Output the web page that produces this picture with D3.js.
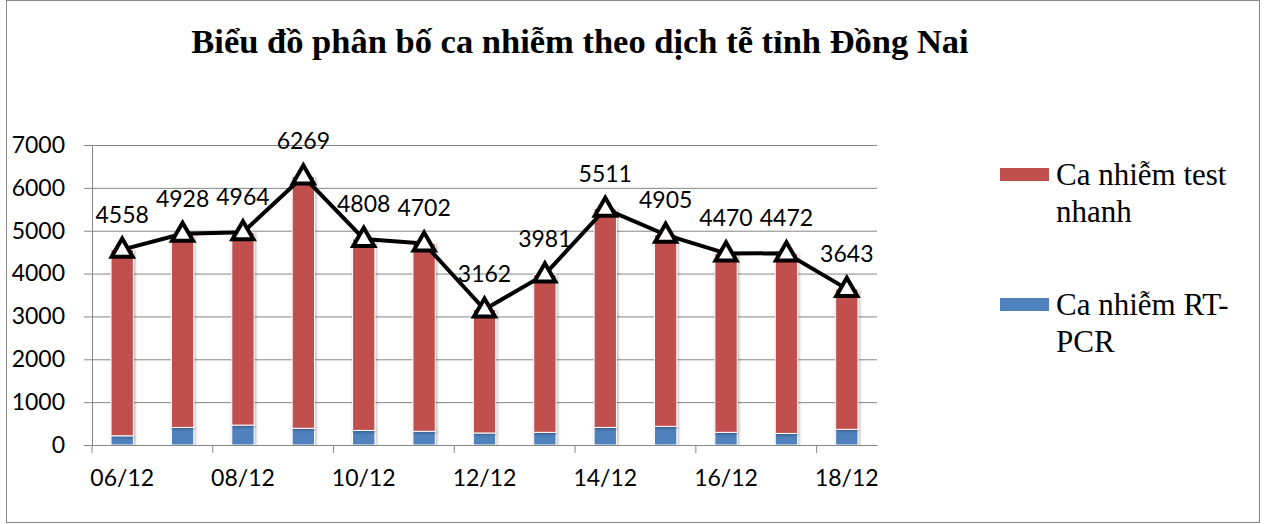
<!DOCTYPE html>
<meta charset="utf-8">
<style>
body { margin: 0; background: #fff; overflow: hidden; }
text { font-family: "Lato", "Open Sans", sans-serif; }
.serif { font-family: "Liberation Serif", "Times New Roman", serif; }
</style>
<body>
<script src="https://d3js.org/d3.v7.min.js"></script>
<script>

// data
var categories = ["06/12", "07/12", "08/12", "09/12", "10/12", "11/12", "12/12",
                  "13/12", "14/12", "15/12", "16/12", "17/12", "18/12"];
var rtPcr     = [215, 410, 465, 390, 340, 320, 280, 295, 410, 435, 295, 270, 365];
var testNhanh = [4343, 4518, 4499, 5879, 4468, 4382, 2882, 3686, 5101, 4470, 4175, 4202, 3278];
var totals    = [4558, 4928, 4964, 6269, 4808, 4702, 3162, 3981, 5511, 4905, 4470, 4472, 3643];
var yTicks    = [0, 1000, 2000, 3000, 4000, 5000, 6000, 7000];
var seriesNames = ["Ca nhiễm RT-PCR", "Ca nhiễm test nhanh"];
var title = "Biểu đồ phân bố ca nhiễm theo dịch tễ tỉnh Đồng Nai";

var W = 1267, H = 524;
var margin = {top: 145, left: 92, right: 390, bottom: 79};
var width = W - margin.left - margin.right,   // 785
    height = H - margin.top - margin.bottom;  // 300

var colors = {rt: "#4F81BD", tn: "#C0504D"};
var fs = "23px";

var svg = d3.select("body").append("svg")
    .attr("width", W)
    .attr("height", H);

// soft shadow like the excel bars
var defs = svg.append("defs");
var f = defs.append("filter").attr("id", "shadow")
    .attr("x", "-30%").attr("y", "-5%").attr("width", "160%").attr("height", "110%");
f.append("feDropShadow").attr("dx", 1).attr("dy", 1)
    .attr("stdDeviation", 1.8).attr("flood-color", "#000").attr("flood-opacity", 0.35);

// outer frame
svg.append("rect")
    .attr("x", 6.5).attr("y", 0.5)
    .attr("width", 1253).attr("height", 522)
    .attr("fill", "none").attr("stroke", "#868686").attr("stroke-width", 1);

// title
svg.append("text")
    .attr("class", "serif")
    .attr("x", 580).attr("y", 53)
    .attr("text-anchor", "middle")
    .style("font-size", "34.5px")
    .style("font-weight", "bold")
    .text(title);

var g = svg.append("g")
    .attr("transform", "translate(" + margin.left + "," + margin.top + ")");

var x = d3.scaleBand()
    .domain(categories)
    .range([0, width])
    .paddingInner(0.63)
    .paddingOuter(0.315);

var y = d3.scaleLinear().domain([0, 7000]).range([height, 0]);

// gridlines
g.append("g")
    .call(d3.axisLeft(y).tickValues(yTicks).tickSize(-width).tickFormat(""))
    .call(function(s) {
      s.select(".domain").remove();
      s.selectAll("line").attr("stroke", "#868686");
    });

// y axis
g.append("g")
    .call(d3.axisLeft(y).tickValues(yTicks).tickSize(8).tickPadding(19).tickFormat(d3.format("d")))
    .call(function(s) {
      s.select(".domain").attr("stroke", "#868686");
      s.selectAll("line").attr("stroke", "#868686");
      s.selectAll("text").style("font-size", fs).style("font-family", "Lato").attr("fill", "#000");
    });

// stacked bars
var rows = categories.map(function(c, i) {
  return {cat: c, rt: rtPcr[i], tn: testNhanh[i]};
});
var stack = d3.stack().keys(["rt", "tn"])(rows);

g.append("g").selectAll("g")
    .data(stack)
  .enter().append("g")
    .attr("fill", function(d) { return colors[d.key]; })
  .selectAll("rect")
    .data(function(d) { return d; })
  .enter().append("rect")
    .attr("x", function(d) { return x(d.data.cat); })
    .attr("y", function(d) { return y(d[1]); })
    .attr("width", x.bandwidth())
    .attr("height", function(d) { return y(d[0]) - y(d[1]); })
    .attr("stroke", "#fff")
    .attr("stroke-width", 1)
    .attr("filter", "url(#shadow)");

// x axis
var xAxis = g.append("g")
    .attr("transform", "translate(0," + height + ")")
    .call(d3.axisBottom(x)
      .tickValues(categories.filter(function(d, i) { return i % 2 === 0; }))
      .tickSize(8).tickSizeOuter(0).tickPadding(17));
xAxis.select(".domain").attr("stroke", "#868686");
xAxis.selectAll("line")
    .attr("stroke", "#868686")
    .attr("x1", -x.step() / 2).attr("x2", -x.step() / 2);
xAxis.selectAll("text").style("font-size", fs).style("font-family", "Lato").attr("fill", "#000");

// total line
var cx = function(d, i) { return x(categories[i]) + x.bandwidth() / 2; };
g.append("path")
    .datum(totals)
    .attr("fill", "none")
    .attr("stroke", "#000")
    .attr("stroke-width", 4)
    .attr("stroke-linejoin", "round")
    .attr("d", d3.line().x(cx).y(function(d) { return y(d); }));

var tri = d3.symbol().type(d3.symbolTriangle).size(190);
g.selectAll(".marker")
    .data(totals)
  .enter().append("path")
    .attr("class", "marker")
    .attr("d", tri)
    .attr("transform", function(d, i) { return "translate(" + cx(d, i) + "," + (y(d) + 1) + ")"; })
    .attr("fill", "#fff")
    .attr("stroke", "#000")
    .attr("stroke-width", 4)
    .attr("stroke-linejoin", "miter");

g.selectAll(".lbl")
    .data(totals)
  .enter().append("text")
    .attr("class", "lbl")
    .attr("x", cx)
    .attr("y", function(d) { return y(d) - 27; })
    .attr("text-anchor", "middle")
    .style("font-size", fs)
    .text(function(d) { return d; });

// legend
var legend = [
  {name: seriesNames[1], color: colors.tn, lines: ["Ca nhiễm test", "nhanh"], y: 174},
  {name: seriesNames[0], color: colors.rt, lines: ["Ca nhiễm RT-", "PCR"], y: 304}
];
var lg = svg.append("g").selectAll("g")
    .data(legend)
  .enter().append("g");
lg.append("rect")
    .attr("x", 1000).attr("y", function(d) { return d.y - 6; })
    .attr("width", 49).attr("height", 13)
    .attr("fill", function(d) { return d.color; });
lg.append("text")
    .attr("class", "serif")
    .style("font-size", "31px")
    .attr("x", 1056)
    .attr("y", function(d) { return d.y + 11; })
    .selectAll("tspan")
    .data(function(d) { return d.lines; })
  .enter().append("tspan")
    .attr("x", 1056)
    .attr("dy", function(d, i) { return i ? 37 : 0; })
    .text(function(d) { return d; });

</script>
</body>
